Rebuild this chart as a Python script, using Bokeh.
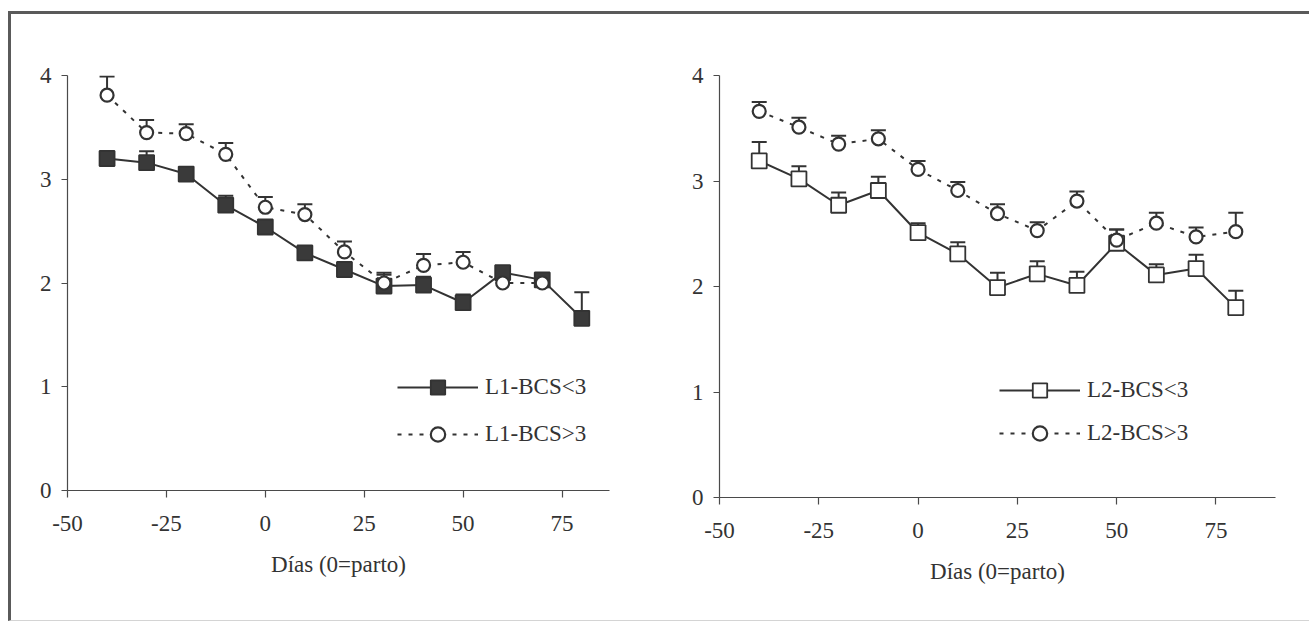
from bokeh.plotting import figure
from bokeh.models import (ColumnDataSource, Whisker, TeeHead, Legend, LegendItem,
                          FixedTicker, Range1d, PrintfTickFormatter)
from bokeh.layouts import row, column
from bokeh.embed import file_html
from bokeh.resources import INLINE

# Días relativos al parto
dias = [-40, -30, -20, -10, 0, 10, 20, 30, 40, 50, 60, 70, 80]

# Lote 1
l1_bcs_bajo = [3.20, 3.16, 3.05, 2.75, 2.54, 2.29, 2.13, 1.97, 1.98, 1.81, 2.10, 2.03, 1.66]
l1_bcs_bajo_ee = [0.05, 0.11, 0.05, 0.09, 0.06, 0.05, 0.06, 0.11, 0.08, 0.08, 0.05, 0.06, 0.25]
l1_bcs_alto = [3.81, 3.45, 3.44, 3.24, 2.73, 2.66, 2.30, 2.00, 2.17, 2.20, 2.00, 2.00]
l1_bcs_alto_ee = [0.18, 0.12, 0.09, 0.11, 0.10, 0.10, 0.10, 0.10, 0.11, 0.10, 0.05, 0.05]

# Lote 2
l2_bcs_bajo = [3.19, 3.02, 2.77, 2.91, 2.51, 2.31, 1.99, 2.12, 2.01, 2.41, 2.11, 2.17, 1.80]
l2_bcs_bajo_ee = [0.18, 0.12, 0.12, 0.13, 0.09, 0.11, 0.14, 0.12, 0.13, 0.13, 0.10, 0.13, 0.16]
l2_bcs_alto = [3.66, 3.51, 3.35, 3.40, 3.11, 2.91, 2.69, 2.53, 2.81, 2.44, 2.60, 2.47, 2.52]
l2_bcs_alto_ee = [0.09, 0.09, 0.08, 0.08, 0.08, 0.08, 0.09, 0.08, 0.09, 0.10, 0.10, 0.09, 0.18]

x_ticks = [-50, -25, 0, 25, 50, 75]
y_ticks = [0, 1, 2, 3, 4]
x_label = "Días (0=parto)"

FONT = "Liberation Serif"
INK = "#333333"
AXIS = "#4a4a4a"
FRAME = "#5a5a5a"
FS = "23px"


def panel(width, x_end, left, right, bottom, series, legend_xy, gap):
    p = figure(width=width, height=606, output_backend="svg", toolbar_location=None,
               x_range=Range1d(-50, x_end), y_range=Range1d(0, 4),
               min_border_left=left, min_border_right=right,
               min_border_top=61, min_border_bottom=bottom,
               background_fill_color="white", border_fill_color="white")
    p.outline_line_color = None
    p.grid.visible = False

    for ax in (p.xaxis[0], p.yaxis[0]):
        ax.axis_line_color = AXIS
        ax.axis_line_width = 1.2
        ax.major_tick_line_color = AXIS
        ax.major_tick_line_width = 1.2
        ax.minor_tick_line_color = None
        ax.major_tick_in = 0
        ax.major_label_text_font = FONT
        ax.major_label_text_font_size = FS
        ax.major_label_text_color = INK
        ax.formatter = PrintfTickFormatter(format="%d")
    p.xaxis[0].ticker = FixedTicker(ticks=x_ticks)
    p.yaxis[0].ticker = FixedTicker(ticks=y_ticks)
    p.xaxis[0].major_tick_out = 7
    p.yaxis[0].major_tick_out = 6
    p.xaxis[0].major_label_standoff = 18
    p.yaxis[0].major_label_standoff = 10
    p.xaxis[0].axis_label = x_label
    p.xaxis[0].axis_label_text_font = FONT
    p.xaxis[0].axis_label_text_font_size = FS
    p.xaxis[0].axis_label_text_font_style = "normal"
    p.xaxis[0].axis_label_text_color = INK
    p.xaxis[0].axis_label_standoff = 18

    items = []
    for s in series:
        n = len(s["y"])
        src = ColumnDataSource(dict(x=dias[:n], y=s["y"],
                                    top=[v + e for v, e in zip(s["y"], s["ee"])]))
        w = Whisker(source=src, base="x", lower="y", upper="top",
                    line_color=INK, line_width=2, level="underlay",
                    upper_head=TeeHead(size=15, line_color=INK, line_width=2),
                    lower_head=None)
        p.add_layout(w)
        ln = p.line("x", "y", source=src, line_color=INK, line_width=2,
                    line_dash=s["dash"])
        if s["marker"] == "square":
            mk = p.scatter("x", "y", source=src, marker="square", size=15,
                           line_color=INK, line_width=1.8, fill_color=s["fill"])
        else:
            mk = p.scatter("x", "y", source=src, marker="circle", size=13,
                           line_color=INK, line_width=2.2, fill_color="white")
        items.append(LegendItem(label=s["label"], renderers=[ln, mk]))

    legend = Legend(items=items, location=legend_xy, orientation="vertical",
                    glyph_width=81, glyph_height=36, label_height=36,
                    spacing=gap, padding=0, margin=0, label_standoff=7,
                    border_line_alpha=0, background_fill_alpha=0,
                    label_text_font=FONT, label_text_font_size=FS,
                    label_text_color=INK)
    p.add_layout(legend)
    return p


p1 = panel(643, 87, 56, 45, 130, [
    dict(y=l1_bcs_bajo, ee=l1_bcs_bajo_ee, dash="solid", marker="square",
         fill="#3a3a3a", label="L1-BCS<3"),
    dict(y=l1_bcs_alto, ee=l1_bcs_alto_ee, dash="4 7", marker="circle",
         fill="white", label="L1-BCS>3"),
], (330, 38), 11)

p2 = panel(655, 90, 65, 34, 123, [
    dict(y=l2_bcs_bajo, ee=l2_bcs_bajo_ee, dash="solid", marker="square",
         fill="white", label="L2-BCS<3"),
    dict(y=l2_bcs_alto, ee=l2_bcs_alto_ee, dash="4 7", marker="circle",
         fill="white", label="L2-BCS>3"),
], (280, 46), 7)

# Marco exterior: línea superior e izquierda gruesas, inferior tenue
layout = row(column(p1), column(p2),
             styles={"margin-left": "8px", "margin-top": "11px",
                     "border-top": f"3px solid {FRAME}",
                     "border-left": f"3px solid {FRAME}",
                     "border-bottom": "1px solid #d4d4d4"})
open("out.html", "w").write(file_html(layout, INLINE))
